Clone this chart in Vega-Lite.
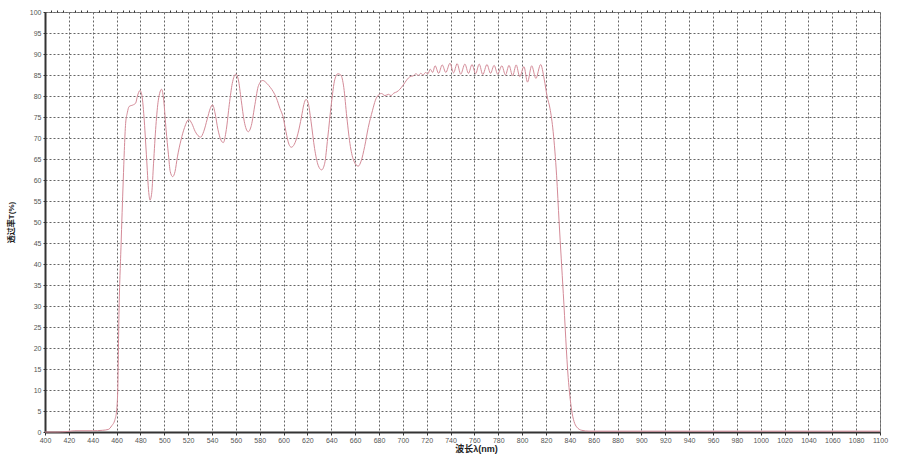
{
  "$schema": "https://vega.github.io/schema/vega-lite/v6.json",
  "width": 835,
  "height": 420,
  "autosize": {"type": "none"},
  "padding": {"left": 45, "top": 12, "right": 32, "bottom": 29},
  "background": "white",
  "config": {
    "view": {"stroke": "#8a8a8a", "strokeWidth": 1},
    "font": "Liberation Sans, Noto Sans CJK SC"
  },
  "data": {
    "values": [
      {"wl": 400, "t": 0}, {"wl": 410, "t": 0}, {"wl": 418, "t": 0.1}, {"wl": 425, "t": 0.3},
      {"wl": 440, "t": 0.3}, {"wl": 448, "t": 0.4}, {"wl": 453, "t": 0.6}, {"wl": 456, "t": 1.5},
      {"wl": 458.7, "t": 3}, {"wl": 460, "t": 5}, {"wl": 461, "t": 10}, {"wl": 462, "t": 28},
      {"wl": 463.7, "t": 44}, {"wl": 465.6, "t": 60}, {"wl": 466.5, "t": 67}, {"wl": 467.6, "t": 73.5},
      {"wl": 469, "t": 76}, {"wl": 470.5, "t": 77.5}, {"wl": 474, "t": 77.9}, {"wl": 476, "t": 78.3},
      {"wl": 477.5, "t": 80}, {"wl": 479.6, "t": 81.3}, {"wl": 481, "t": 80.5}, {"wl": 483, "t": 75},
      {"wl": 485, "t": 66}, {"wl": 487, "t": 57}, {"wl": 488, "t": 55.2}, {"wl": 489.5, "t": 57},
      {"wl": 491, "t": 64}, {"wl": 493, "t": 73}, {"wl": 495, "t": 79}, {"wl": 497.8, "t": 81.6},
      {"wl": 499.5, "t": 79}, {"wl": 501.5, "t": 72}, {"wl": 503.5, "t": 66}, {"wl": 505, "t": 62},
      {"wl": 507, "t": 60.8}, {"wl": 509, "t": 62}, {"wl": 511, "t": 65.5}, {"wl": 514, "t": 69.5},
      {"wl": 517, "t": 72.5}, {"wl": 520.5, "t": 74.4}, {"wl": 523, "t": 73.5}, {"wl": 526, "t": 71.5},
      {"wl": 530.5, "t": 70.2}, {"wl": 533, "t": 71.5}, {"wl": 536, "t": 74.5}, {"wl": 538.5, "t": 77},
      {"wl": 540.5, "t": 77.9}, {"wl": 542.5, "t": 76}, {"wl": 545, "t": 72}, {"wl": 547.5, "t": 69.5},
      {"wl": 549.5, "t": 68.9}, {"wl": 552, "t": 72}, {"wl": 554.5, "t": 78}, {"wl": 557, "t": 83},
      {"wl": 560, "t": 85.2}, {"wl": 562, "t": 84}, {"wl": 564.5, "t": 79}, {"wl": 567, "t": 74},
      {"wl": 570.4, "t": 71.5}, {"wl": 573, "t": 73}, {"wl": 576, "t": 78}, {"wl": 579, "t": 82.5},
      {"wl": 582.5, "t": 83.7}, {"wl": 586, "t": 83}, {"wl": 589, "t": 82}, {"wl": 591.4, "t": 81},
      {"wl": 594, "t": 79.5}, {"wl": 597, "t": 77}, {"wl": 599.5, "t": 75.1}, {"wl": 602, "t": 71.5},
      {"wl": 604.5, "t": 68.5}, {"wl": 606.5, "t": 67.8}, {"wl": 609, "t": 68.5}, {"wl": 612, "t": 71},
      {"wl": 615, "t": 75}, {"wl": 617, "t": 78}, {"wl": 618.8, "t": 79.2}, {"wl": 620.5, "t": 78.5},
      {"wl": 623, "t": 74}, {"wl": 626, "t": 67.5}, {"wl": 629, "t": 63.5}, {"wl": 631.9, "t": 62.4},
      {"wl": 634.5, "t": 64}, {"wl": 637, "t": 70}, {"wl": 640, "t": 78}, {"wl": 643, "t": 84},
      {"wl": 645.5, "t": 85.3}, {"wl": 648, "t": 85}, {"wl": 650.5, "t": 82}, {"wl": 653, "t": 75},
      {"wl": 656, "t": 68}, {"wl": 659, "t": 64.5}, {"wl": 662.6, "t": 63.3}, {"wl": 665, "t": 64.5},
      {"wl": 668, "t": 68}, {"wl": 671, "t": 72.5}, {"wl": 674.5, "t": 76.5}, {"wl": 677, "t": 79},
      {"wl": 679.4, "t": 80.2}, {"wl": 682, "t": 80.6}, {"wl": 685, "t": 80.1}, {"wl": 688, "t": 80.4},
      {"wl": 690, "t": 80.1}, {"wl": 692.5, "t": 80.7}, {"wl": 695, "t": 81}, {"wl": 697.5, "t": 81.6},
      {"wl": 700.3, "t": 82.6}, {"wl": 703.2, "t": 83.8}, {"wl": 706, "t": 84.6}, {"wl": 708.7, "t": 84.8},
      {"wl": 711, "t": 85.3}, {"wl": 713, "t": 84.9}, {"wl": 715, "t": 85.4}, {"wl": 717, "t": 85},
      {"wl": 719, "t": 85.6}, {"wl": 721, "t": 85.3}, {"wl": 723, "t": 86.4}, {"wl": 725, "t": 85.6},
      {"wl": 727, "t": 87.2}, {"wl": 730, "t": 85.4}, {"wl": 733, "t": 87.4}, {"wl": 736, "t": 85.6},
      {"wl": 739.5, "t": 87.8}, {"wl": 742.5, "t": 85.5}, {"wl": 745.5, "t": 87.7}, {"wl": 748.5, "t": 85.2},
      {"wl": 752, "t": 87.6}, {"wl": 755, "t": 85.4}, {"wl": 758, "t": 87.5}, {"wl": 761, "t": 85.3},
      {"wl": 764, "t": 87.6}, {"wl": 767, "t": 85.1}, {"wl": 770.5, "t": 87.5}, {"wl": 773.5, "t": 85.4},
      {"wl": 776.5, "t": 87.3}, {"wl": 779.5, "t": 85.2}, {"wl": 783, "t": 87.2}, {"wl": 786, "t": 85},
      {"wl": 789, "t": 87.3}, {"wl": 792, "t": 84.8}, {"wl": 795, "t": 87.4}, {"wl": 798, "t": 84.6},
      {"wl": 801.5, "t": 87}, {"wl": 804.5, "t": 83.3}, {"wl": 808, "t": 87.2}, {"wl": 811.5, "t": 84.2},
      {"wl": 815.5, "t": 87.5}, {"wl": 818.5, "t": 84}, {"wl": 821, "t": 79.8}, {"wl": 823.3, "t": 77.1},
      {"wl": 826, "t": 71.5}, {"wl": 828.9, "t": 61}, {"wl": 831, "t": 50}, {"wl": 834.5, "t": 33},
      {"wl": 838.6, "t": 13}, {"wl": 841.5, "t": 5.2}, {"wl": 843.5, "t": 2.5}, {"wl": 845.7, "t": 1.2},
      {"wl": 850, "t": 0.4}, {"wl": 856, "t": 0.2}, {"wl": 1000, "t": 0.2}, {"wl": 1100, "t": 0.2}
    ]
  },
  "resolve": {"axis": {"x": "independent", "y": "independent"}},
  "layer": [
    {
      "mark": {"type": "line", "color": "#d48b98", "strokeWidth": 1, "interpolate": "monotone"},
      "encoding": {
        "x": {
          "field": "wl", "type": "quantitative",
          "scale": {"domain": [400, 1100], "nice": false, "zero": false},
          "axis": {
            "values": [400,420,440,460,480,500,520,540,560,580,600,620,640,660,680,700,720,740,760,780,800,820,840,860,880,900,920,940,960,980,1000,1020,1040,1060,1080,1100],
            "format": "d",
            "title": "波长λ(nm)", "titleFontSize": 9, "titleFontWeight": "bold", "titleColor": "#222",
            "titlePadding": 1, "titleX": 431,
            "labelFontSize": 7, "labelColor": "#555", "labelPadding": 1, "labelFlush": false,
            "tickSize": 3, "tickColor": "#333",
            "domainColor": "#333", "domainWidth": 2,
            "grid": true, "gridColor": "#666", "gridDash": [2, 2], "gridWidth": 1
          }
        },
        "y": {
          "field": "t", "type": "quantitative",
          "scale": {"domain": [0, 100], "nice": false},
          "axis": {
            "values": [0,5,10,15,20,25,30,35,40,45,50,55,60,65,70,75,80,85,90,95,100],
            "title": "透过率T(%)", "titleFontSize": 8, "titleFontWeight": "bold", "titleColor": "#222",
            "titlePadding": 14,
            "labelFontSize": 7, "labelColor": "#555", "labelPadding": 2,
            "tickSize": 2, "tickColor": "#333",
            "domainColor": "#333", "domainWidth": 2,
            "grid": true, "gridColor": "#666", "gridDash": [2, 2], "gridWidth": 1
          }
        }
      }
    },
    {
      "mark": {"type": "point", "opacity": 0},
      "encoding": {
        "x": {
          "field": "wl", "type": "quantitative",
          "axis": {
            "values": [405,410,415,425,430,435,445,450,455,465,470,475,485,490,495,505,510,515,525,530,535,545,550,555,565,570,575,585,590,595,605,610,615,625,630,635,645,650,655,665,670,675,685,690,695,705,710,715,725,730,735,745,750,755,765,770,775,785,790,795,805,810,815,825,830,835,845,850,855,865,870,875,885,890,895,905,910,915,925,930,935,945,950,955,965,970,975,985,990,995,1005,1010,1015,1025,1030,1035,1045,1050,1055,1065,1070,1075,1085,1090,1095],
            "labels": false, "grid": false, "domain": false, "title": null,
            "tickSize": 2, "tickColor": "#333"
          }
        },
        "y": {"field": "t", "type": "quantitative", "axis": null}
      }
    }
  ]
}
